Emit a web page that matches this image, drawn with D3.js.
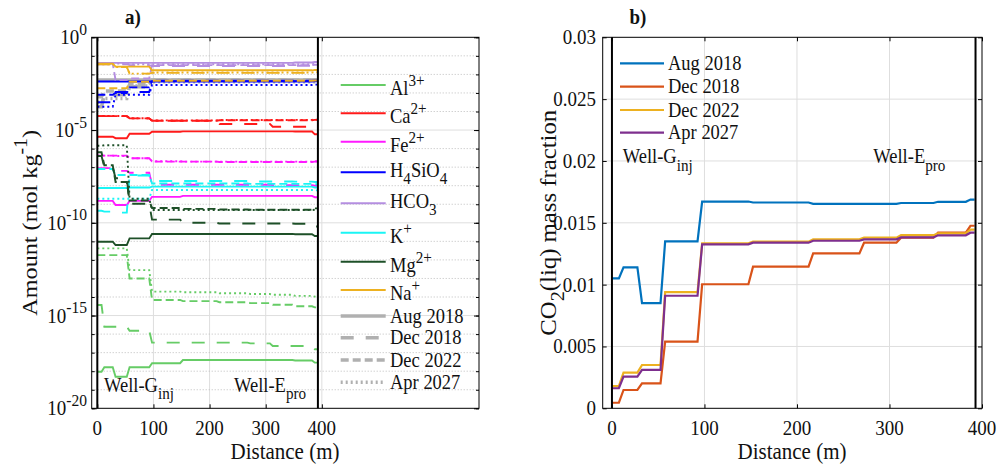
<!DOCTYPE html>
<html lang="en">
<head>
<meta charset="UTF-8">
<title>Dissolved species and CO2 along the flow path</title>
<style>
  body { margin: 0; background: #fff; }
  svg { display: block; }
  svg text { font-family: "Liberation Serif", "Times New Roman", Tinos, "Nimbus Roman", "DejaVu Serif", serif; }
</style>
</head>
<body>
<svg width="1000" height="469"></svg>
<script src="https://d3js.org/d3.v7.min.js"></script>
<script>
// cell edges along the path (m); every series holds one value per cell
const cellEdges = [0, 10, 30, 55, 95, 150, 215, 270, 310, 350, 385, 392];
const wellDistances = [0, 393];
const periods = ["Aug 2018", "Dec 2018", "Dec 2022", "Apr 2027"];

// panel a: log10 of amount (mol kg-1), rows = periods
const al3 = [
  [-18.03, -17.79, -18.3, -17.79, -17.57, -17.4, -17.4, -17.4, -17.4, -17.42, -17.54],
  [-14.43, -15.6, -15.6, -15.82, -16.46, -16.46, -16.46, -16.5, -16.64, -16.64, -16.82],
  [-11.74, -11.74, -11.74, -13.0, -14.16, -14.22, -14.28, -14.33, -14.42, -14.5, -14.56],
  [-11.38, -11.38, -11.38, -12.55, -13.71, -13.74, -13.8, -13.84, -13.88, -13.94, -13.98]
];
const ca2 = [
  [-5.36, -5.36, -5.44, -5.2, -5.09, -5.07, -5.07, -5.07, -5.07, -5.08, -5.23],
  [-4.25, -4.25, -4.25, -4.37, -4.5, -4.5, -4.67, -4.67, -4.82, -4.82, -4.82],
  [-4.25, -4.25, -4.25, -4.37, -4.5, -4.5, -4.47, -4.47, -4.47, -4.47, -4.45],
  [-4.24, -4.24, -4.24, -4.36, -4.48, -4.48, -4.46, -4.46, -4.46, -4.45, -4.44]
];
const fe2 = [
  [-8.82, -8.82, -9.04, -8.82, -8.6, -8.55, -8.55, -8.55, -8.55, -8.55, -8.62],
  [-7.05, -7.05, -7.2, -7.3, -7.95, -7.95, -7.95, -7.95, -7.97, -7.97, -8.0],
  [-6.38, -6.38, -6.38, -6.52, -6.7, -6.7, -6.72, -6.72, -6.72, -6.72, -6.7],
  [-6.38, -6.38, -6.4, -6.52, -6.68, -6.7, -6.7, -6.7, -6.7, -6.7, -6.68]
];
const h4sio4 = [
  [-2.38, -2.38, -2.38, -2.38, -2.38, -2.38, -2.38, -2.38, -2.38, -2.38, -2.37],
  [-3.5, -3.5, -2.95, -2.95, -2.34, -2.34, -2.34, -2.34, -2.34, -2.34, -2.32],
  [-3.1, -3.1, -3.0, -2.7, -2.36, -2.36, -2.36, -2.36, -2.36, -2.36, -2.34],
  [-3.74, -3.74, -3.1, -3.1, -2.57, -2.57, -2.57, -2.57, -2.57, -2.57, -2.55]
];
const hco3 = [
  [-1.38, -1.38, -1.38, -1.38, -1.38, -1.38, -1.38, -1.38, -1.38, -1.36, -1.33],
  [-1.45, -1.45, -1.45, -1.5, -1.55, -1.55, -1.55, -1.55, -1.55, -1.53, -1.5],
  [-1.42, -1.42, -2.3, -2.22, -1.5, -1.5, -1.5, -1.5, -1.5, -1.5, -1.48],
  [-1.4, -1.4, -1.42, -1.45, -1.45, -1.45, -1.45, -1.45, -1.45, -1.45, -1.43]
];
const kPlus = [
  [-8.12, -8.12, -8.12, -8.1, -8.05, -8.05, -8.05, -8.05, -8.05, -8.05, -8.1],
  [-9.35, -9.4, -9.45, -7.45, -7.75, -7.75, -7.75, -7.77, -7.77, -7.78, -7.8],
  [-7.1, -7.1, -7.42, -7.42, -7.88, -7.88, -7.88, -7.9, -7.9, -7.9, -7.92],
  [-8.7, -8.7, -8.7, -8.7, -8.23, -8.23, -8.23, -8.23, -8.23, -8.23, -8.25]
];
const mg2 = [
  [-11.02, -11.02, -11.2, -10.84, -10.6, -10.6, -10.6, -10.6, -10.6, -10.62, -10.71],
  [-6.4, -7.0, -7.6, -8.97, -9.83, -10.0, -10.04, -10.04, -10.04, -10.05, -10.2],
  [-6.2, -6.9, -7.8, -8.8, -9.2, -9.25, -9.28, -9.3, -9.3, -9.3, -9.22],
  [-5.85, -5.82, -5.82, -8.7, -9.31, -9.31, -9.31, -9.31, -9.31, -9.31, -9.3]
];
const naPlus = [
  [-1.42, -1.42, -1.58, -1.58, -1.78, -1.78, -1.78, -1.78, -1.78, -1.78, -1.76],
  [-1.45, -1.45, -1.6, -1.96, -1.92, -1.92, -1.92, -1.92, -1.92, -1.92, -1.9],
  [-2.75, -2.75, -2.75, -2.4, -2.34, -2.34, -2.34, -2.34, -2.34, -2.34, -2.33],
  [-1.45, -1.45, -1.6, -1.96, -1.9, -1.9, -1.9, -1.9, -1.9, -1.9, -1.88]
];
// grey series (the period entries of the legend)
const greySeries = [
  [-2.3, -2.3, -2.3, -2.3, -2.3, -2.3, -2.3, -2.3, -2.3, -2.3, -2.29],
  [-3.74, -3.1, -3.1, -2.66, -2.32, -2.32, -2.32, -2.32, -2.32, -2.32, -2.31],
  [-3.2, -2.9, -2.9, -2.55, -2.32, -2.32, -2.32, -2.32, -2.32, -2.32, -2.31],
  [-3.5, -3.3, -3.3, -2.62, -2.4, -2.4, -2.4, -2.4, -2.4, -2.4, -2.39]
];
const speciesLabels = ["Al^{3+}", "Ca^{2+}", "Fe^{2+}", "H_{4}SiO_{4}", "HCO_{3}", "K^{+}", "Mg^{2+}", "Na^{+}"];
const speciesData = [al3, ca2, fe2, h4sio4, hco3, kPlus, mg2, naPlus];
const speciesColors = ["#66cc66", "#ff1a1a", "#ff1aff", "#0000ff", "#b48ee0", "#1af5f5", "#1e5028", "#edb120"];

// panel b: CO2(liq) mass fraction
const co2Aug2018 = [0.0105, 0.0114, 0.0085, 0.0135, 0.01672, 0.01664, 0.01653, 0.01653, 0.0166, 0.0167, 0.01688];
const co2Dec2018 = [0.00045, 0.00148, 0.00202, 0.00539, 0.01003, 0.01145, 0.01253, 0.01339, 0.0138, 0.0142, 0.01476];
const co2Dec2022 = [0.0018, 0.00288, 0.0035, 0.0094, 0.01334, 0.01347, 0.01366, 0.0138, 0.014, 0.01415, 0.01445];
const co2Apr2027 = [0.00162, 0.00256, 0.0031, 0.0091, 0.01326, 0.01339, 0.01355, 0.01366, 0.01382, 0.01399, 0.0142];
const co2Colors = ["#0072bd", "#d95319", "#edb120", "#7e2f8e"];

const xTicks = [0, 100, 200, 300, 400];
const yExpMajor = [0, -5, -10, -15, -20];
const yTicksB = [0, 0.005, 0.01, 0.015, 0.02, 0.025, 0.03];
const yTickLabelsB = ["0", "0.005", "0.01", "0.015", "0.02", "0.025", "0.03"];

const periodDash = [null, "13,12", "8,4", "2,3"];

const svg = d3.select("svg");
const plotTop = 37.3, plotBottom = 408.3;
const xA = d3.scaleLinear([-10, 680], [91.7, 479]);
const yA = d3.scaleLog([1e-20, 1], [plotBottom, plotTop]);
const xB = d3.scaleLinear([-10, 400], [602.7, 982]);
const yB = d3.scaleLinear([0, 0.03], [plotBottom, plotTop]);

// step profile: flat in each cell, short ramp at the cell edges
function stepPoints(values) {
  const ramp = 2.5, pts = [];
  values.forEach((v, i) => {
    const a = i === 0 ? cellEdges[0] : cellEdges[i] + ramp;
    const b = i === values.length - 1 ? cellEdges[i + 1] : cellEdges[i + 1] - ramp;
    pts.push([a, v], [b, v]);
  });
  return pts;
}

// text with ^{sup} and _{sub}
function rich(t, str, size) {
  const parts = str.split(/(\^\{[^}]*\}|_\{[^}]*\})/).filter(s => s);
  let shift = 0;
  parts.forEach(p => {
    let target = 0, fs = size, s = p;
    if (p[0] === "^") { target = -0.45 * size; fs = 0.82 * size; s = p.slice(2, -1); }
    else if (p[0] === "_") { target = 0.36 * size; fs = 0.82 * size; s = p.slice(2, -1); }
    t.append("tspan").attr("dy", target - shift).attr("font-size", fs).text(s);
    shift = target;
  });
  return t;
}
function label(g, x, y, str, size, anchor, rotate) {
  const tr = rotate ? `translate(${x},${y}) rotate(-90) scale(1.1,1)` : `translate(${x},${y}) scale(1,1.1)`;
  const t = g.append("text").attr("transform", tr).attr("text-anchor", anchor || "start")
    .attr("font-size", size).attr("fill", "#111");
  return rich(t, str, size);
}

// ---------- panel a ----------
const ga = svg.append("g");
const [ax0, ax1] = xA.range();
xTicks.slice(1).forEach(v => ga.append("line")
  .attr("x1", xA(v)).attr("x2", xA(v)).attr("y1", plotTop).attr("y2", plotBottom)
  .attr("stroke", "#dedede").attr("stroke-width", 1));
d3.range(-19, 0).forEach(e => {
  const major = e % 5 === 0;
  ga.append("line").attr("x1", ax0).attr("x2", ax1).attr("y1", yA(10 ** e)).attr("y2", yA(10 ** e))
    .attr("stroke", major ? "#dedede" : "#bdbdbd").attr("stroke-width", 1)
    .attr("stroke-dasharray", major ? null : "1,2");
});

const lineA = d3.line().x(d => xA(d[0])).y(d => yA(10 ** d[1]));
greySeries.forEach((s, j) => ga.append("path").attr("d", lineA(stepPoints(s)))
  .attr("fill", "none").attr("stroke", "#b0b0b0").attr("stroke-width", 3.5)
  .attr("stroke-dasharray", periodDash[j]));
speciesData.forEach((sp, i) => sp.forEach((s, j) => ga.append("path").attr("d", lineA(stepPoints(s)))
  .attr("fill", "none").attr("stroke", speciesColors[i]).attr("stroke-width", 1.9)
  .attr("stroke-dasharray", periodDash[j])));

wellDistances.forEach(d => ga.append("line").attr("x1", xA(d)).attr("x2", xA(d))
  .attr("y1", plotTop).attr("y2", plotBottom).attr("stroke", "#000").attr("stroke-width", 2));

// ticks (inward)
ga.append("g").attr("transform", `translate(0,${plotBottom})`)
  .call(d3.axisBottom(xA).tickValues(xTicks).tickSize(-4).tickFormat(""))
  .call(g => g.select(".domain").remove());
ga.append("g").attr("transform", `translate(0,${plotTop})`)
  .call(d3.axisTop(xA).tickValues(xTicks).tickSize(-4).tickFormat(""))
  .call(g => g.select(".domain").remove());
[[d3.axisLeft, ax0], [d3.axisRight, ax1]].forEach(([ax, x]) => {
  ga.append("g").attr("transform", `translate(${x},0)`)
    .call(ax(yA).tickValues(d3.range(-20, 1).map(e => 10 ** e)).tickSize(-3).tickFormat(""))
    .call(g => g.select(".domain").remove());
  ga.append("g").attr("transform", `translate(${x},0)`)
    .call(ax(yA).tickValues(yExpMajor.map(e => 10 ** e)).tickSize(-5).tickFormat(""))
    .call(g => g.select(".domain").remove());
});
ga.append("rect").attr("x", ax0).attr("y", plotTop).attr("width", ax1 - ax0).attr("height", plotBottom - plotTop)
  .attr("fill", "none").attr("stroke", "#000").attr("stroke-width", 1);

xTicks.forEach(v => label(ga, xA(v), 435, String(v), 19, "middle"));
yExpMajor.forEach(e => label(ga, 87, yA(10 ** e) + 7, `10^{${e}}`, 19, "end"));
label(ga, 285, 459, "Distance (m)", 21, "middle");
label(ga, 37, 222.8, "Amount (mol kg^{-1})", 22, "middle", true);
label(ga, 133, 24, "a)", 19, "middle").attr("font-weight", "bold");
label(ga, 104, 391.7, "Well-G_{inj}", 18.5);
label(ga, 234, 391.7, "Well-E_{pro}", 18.5);

// legend
const legendGapA = [28.3, 28.4, 30.6, 31, 29.4, 29, 28.3, 26, 21.7, 22.3, 22.3];
const legendItemsA = speciesLabels.map((l, i) => ({ l, color: speciesColors[i], dash: null, w: 2 }))
  .concat(periods.map((p, j) => ({ l: p, color: "#b0b0b0", dash: periodDash[j], w: 3.5 })));
let ly = 85;
legendItemsA.forEach((it, i) => {
  ga.append("line").attr("x1", 340.7).attr("x2", 385.7).attr("y1", ly).attr("y2", ly)
    .attr("stroke", it.color).attr("stroke-width", it.w).attr("stroke-dasharray", it.dash);
  const off = it.l.includes("^") ? 10 : it.l.includes("_") ? 4.5 : 6.5;
  label(ga, 390, ly + off, it.l, 18.5);
  if (i < legendGapA.length) ly += legendGapA[i];
});

// ---------- panel b ----------
const gb = svg.append("g");
const [bx0, bx1] = xB.range();
xTicks.slice(1, 4).forEach(v => gb.append("line")
  .attr("x1", xB(v)).attr("x2", xB(v)).attr("y1", plotTop).attr("y2", plotBottom)
  .attr("stroke", "#dedede").attr("stroke-width", 1));
yTicksB.slice(1, -1).forEach(v => gb.append("line")
  .attr("x1", bx0).attr("x2", bx1).attr("y1", yB(v)).attr("y2", yB(v))
  .attr("stroke", "#dedede").attr("stroke-width", 1));

const lineB = d3.line().x(d => xB(d[0])).y(d => yB(d[1]));
[co2Aug2018, co2Dec2018, co2Dec2022, co2Apr2027].forEach((s, j) => gb.append("path")
  .attr("d", lineB(stepPoints(s))).attr("fill", "none")
  .attr("stroke", co2Colors[j]).attr("stroke-width", 2.2));

wellDistances.forEach(d => gb.append("line").attr("x1", xB(d)).attr("x2", xB(d))
  .attr("y1", plotTop).attr("y2", plotBottom).attr("stroke", "#000").attr("stroke-width", 2));

gb.append("g").attr("transform", `translate(0,${plotBottom})`)
  .call(d3.axisBottom(xB).tickValues(xTicks).tickSize(-4).tickFormat(""))
  .call(g => g.select(".domain").remove());
gb.append("g").attr("transform", `translate(0,${plotTop})`)
  .call(d3.axisTop(xB).tickValues(xTicks).tickSize(-4).tickFormat(""))
  .call(g => g.select(".domain").remove());
[[d3.axisLeft, bx0], [d3.axisRight, bx1]].forEach(([ax, x]) => gb.append("g")
  .attr("transform", `translate(${x},0)`)
  .call(ax(yB).tickValues(yTicksB).tickSize(-4).tickFormat(""))
  .call(g => g.select(".domain").remove()));
gb.append("rect").attr("x", bx0).attr("y", plotTop).attr("width", bx1 - bx0).attr("height", plotBottom - plotTop)
  .attr("fill", "none").attr("stroke", "#000").attr("stroke-width", 1);

xTicks.forEach(v => label(gb, xB(v), 435, String(v), 19, "middle"));
yTicksB.forEach((v, i) => label(gb, 596, yB(v) + 7, yTickLabelsB[i], 19, "end"));
label(gb, 792, 459, "Distance (m)", 21, "middle");
label(gb, 556, 222.8, "CO_{2}(liq) mass fraction", 22.5, "middle", true);
label(gb, 638, 24, "b)", 19, "middle").attr("font-weight", "bold");
label(gb, 622.7, 163.3, "Well-G_{inj}", 18.5);
label(gb, 873.3, 163.3, "Well-E_{pro}", 18.5);

const legendYB = [63.3, 86.7, 110, 132.7];
periods.forEach((p, j) => {
  gb.append("line").attr("x1", 620).attr("x2", 664).attr("y1", legendYB[j]).attr("y2", legendYB[j])
    .attr("stroke", co2Colors[j]).attr("stroke-width", 2.2);
  label(gb, 668, legendYB[j] + 6.5, p, 18.5);
});
</script>
</body>
</html>
